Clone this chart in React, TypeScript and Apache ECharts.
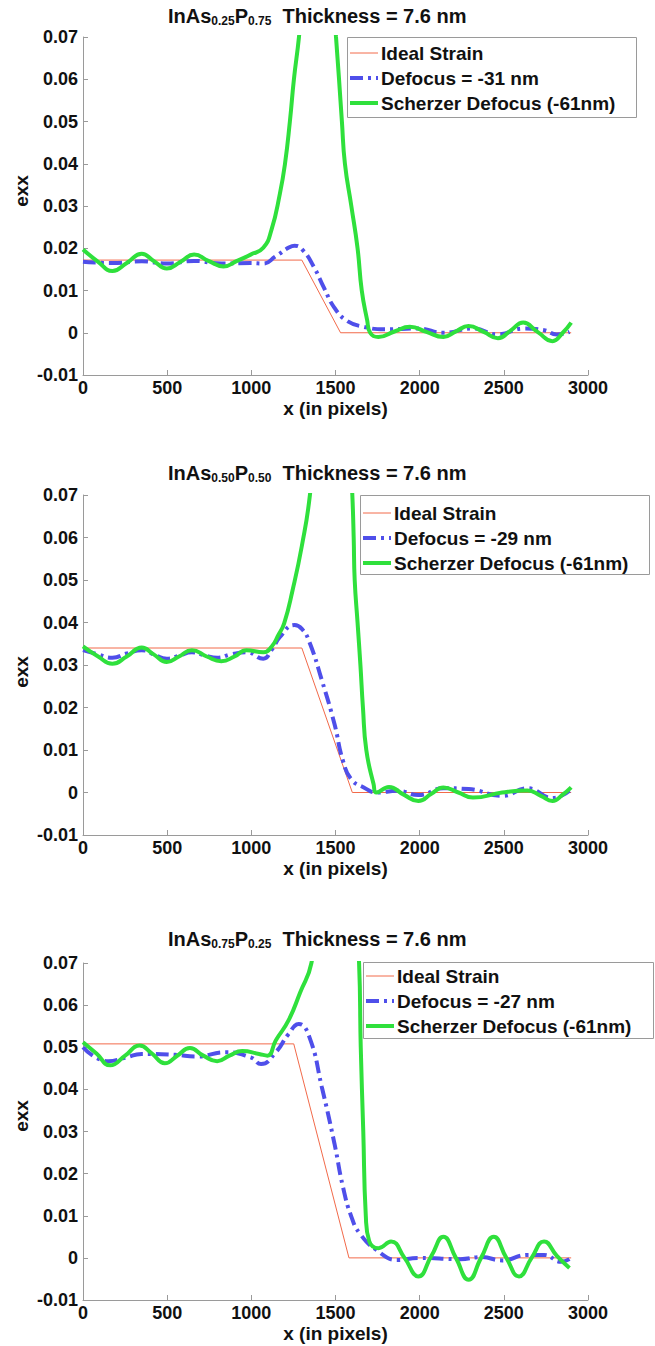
import React, { useEffect, useRef } from "react";
import * as echarts from "echarts";

const FONT = "'Liberation Sans', Arial, Helvetica, sans-serif";

// x ticks / y ticks
const xTicks = [0, 500, 1000, 1500, 2000, 2500, 3000];
const yTicks = [-0.01, 0, 0.01, 0.02, 0.03, 0.04, 0.05, 0.06, 0.07];

const titles = [
  ["0.25", "0.75"],
  ["0.50", "0.50"],
  ["0.75", "0.25"],
];
const defocusNames = ["Defocus = -31 nm", "Defocus = -29 nm", "Defocus = -27 nm"];
const idealName = "Ideal Strain";
const scherzerName = "Scherzer Defocus (-61nm)";

// Panel 1 (InAs0.25P0.75)
const ideal1 = [[0, 0.0172], [1300, 0.0172], [1530, 0], [2900, 0]];
const defocus1 = [
  [0, 0.0168], [174, 0.0165], [349, 0.0169], [498, 0.0164], [660, 0.017], [822, 0.0164],
  [996, 0.0165], [1071, 0.0164], [1145, 0.0181], [1220, 0.0201], [1257, 0.0206], [1307, 0.0195],
  [1370, 0.0157], [1432, 0.0106], [1494, 0.0059], [1569, 0.0028], [1668, 0.0014], [1793, 0.0008],
  [1992, 0.001], [2141, 0], [2316, 0.001], [2465, -0.0004], [2615, 0.001], [2739, 0.0006],
  [2814, -0.0004], [2890, 0.0002],
];
const scherzer1 = [
  [0, 0.0197], [90, 0.0168], [175, 0.0146], [260, 0.0165], [349, 0.0187], [420, 0.017],
  [498, 0.0152], [580, 0.0168], [660, 0.0185], [745, 0.017], [834, 0.0157], [915, 0.017],
  [996, 0.0185], [1071, 0.0201], [1120, 0.0244], [1170, 0.033], [1200, 0.04], [1229, 0.05],
  [1253, 0.06], [1283, 0.07], [1330, 0.09], [1400, 0.105], [1460, 0.095], [1503, 0.07],
  [1521, 0.06], [1538, 0.05], [1556, 0.04], [1594, 0.03], [1631, 0.02], [1656, 0.01],
  [1688, 0.003], [1706, 0], [1755, -0.001], [1850, 0.0003], [1942, 0.0014], [2040, 0.0002],
  [2141, -0.001], [2215, 0.0003], [2290, 0.0016], [2380, 0.0002], [2465, -0.0013], [2540, 0.0005],
  [2615, 0.0024], [2700, 0.0002], [2789, -0.002], [2850, 0], [2900, 0.0024],
];

// Panel 2 (InAs0.50P0.50)
const ideal2 = [[0, 0.034], [1300, 0.034], [1600, 0], [2900, 0]];
const defocus2 = [
  [0, 0.0335], [90, 0.0325], [174, 0.0317], [260, 0.0327], [349, 0.0335], [420, 0.0325],
  [498, 0.0315], [570, 0.0322], [647, 0.033], [720, 0.0323], [797, 0.0317], [880, 0.0325],
  [971, 0.033], [1071, 0.0315], [1120, 0.0335], [1170, 0.0366], [1257, 0.0394], [1300, 0.0385],
  [1345, 0.0354], [1419, 0.0264], [1494, 0.0161], [1544, 0.0075], [1594, 0.0031], [1668, 0.0012],
  [1743, 0], [1868, 0.0004], [1992, -0.0006], [2141, 0.001], [2291, 0.0008], [2490, -0.0008],
  [2640, 0.001], [2789, -0.0013], [2890, 0.0004],
];
const scherzer2 = [
  [0, 0.0344], [90, 0.032], [174, 0.0303], [260, 0.032], [349, 0.0341], [420, 0.0325],
  [498, 0.0307], [570, 0.032], [647, 0.0335], [735, 0.032], [822, 0.0309], [900, 0.032],
  [971, 0.0335], [1071, 0.033], [1120, 0.0343], [1160, 0.037], [1195, 0.0398], [1245, 0.0476],
  [1300, 0.058], [1348, 0.07], [1420, 0.1], [1500, 0.11], [1570, 0.095], [1600, 0.07],
  [1608, 0.06], [1614, 0.05], [1631, 0.04], [1648, 0.03], [1663, 0.02], [1683, 0.01],
  [1726, 0.002], [1743, 0], [1818, 0.0013], [1905, -0.0005], [1992, -0.002], [2070, -0.0003],
  [2141, 0.0012], [2230, 0], [2316, -0.0012], [2490, 0], [2640, 0.0005], [2720, -0.0008],
  [2789, -0.002], [2850, -0.0005], [2900, 0.0012],
];

// Panel 3 (InAs0.75P0.25)
const ideal3 = [[0, 0.0508], [1252, 0.0508], [1580, 0], [2900, 0]];
const defocus3 = [
  [0, 0.05], [149, 0.0467], [250, 0.0475], [349, 0.0484], [548, 0.0482], [672, 0.0478],
  [847, 0.0488], [996, 0.0476], [1058, 0.046], [1145, 0.0488], [1220, 0.0531], [1282, 0.0555],
  [1345, 0.0524], [1419, 0.0405], [1494, 0.0271], [1544, 0.0169], [1594, 0.0098], [1644, 0.0058],
  [1743, 0.0019], [1868, -0.0005], [1992, 0], [2241, -0.0003], [2366, 0.0002], [2490, -0.0006],
  [2640, 0.0007], [2739, 0.0007], [2839, -0.0009], [2890, -0.0003],
];
const scherzer3 = [
  [0, 0.0512], [80, 0.0485], [162, 0.0457], [250, 0.048], [336, 0.0504], [410, 0.0485],
  [486, 0.0462], [560, 0.048], [635, 0.0498], [715, 0.048], [797, 0.0467], [870, 0.048],
  [946, 0.0491], [1046, 0.0484], [1096, 0.048], [1145, 0.0516], [1220, 0.0563], [1290, 0.063],
  [1357, 0.07], [1450, 0.095], [1540, 0.105], [1610, 0.09], [1640, 0.07], [1650, 0.05],
  [1665, 0.03], [1680, 0.01], [1700, 0.004], [1755, 0.0023], [1830, 0.0039], [1910, 0],
  [1992, -0.0044], [2070, 0.0005], [2141, 0.005], [2215, 0], [2291, -0.0052], [2365, 0],
  [2440, 0.005], [2515, 0], [2590, -0.0044], [2665, 0], [2739, 0.0039], [2815, 0.0005],
  [2890, -0.0024],
];

const idealData = [ideal1, ideal2, ideal3];
const defocusData = [defocus1, defocus2, defocus3];
const scherzerData = [scherzer1, scherzer2, scherzer3];

// layout
const grids = [
  { left: 83, top: 37, width: 505, height: 338 },
  { left: 83, top: 495, width: 505, height: 340 },
  { left: 83, top: 963, width: 505, height: 337 },
];
const legendBoxes = [
  { x: 347, y: 37, w: 289, h: 80, first: 16 },
  { x: 360, y: 495, w: 289, h: 79, first: 18 },
  { x: 363, y: 962, w: 290, h: 76, first: 14 },
];
const titleTops = [5, 462, 928];
const ylabelY = [191, 672, 1116];

const RED = "#f26a4a";
const BLUE = "#4f4fea";
const GREEN = "#2fe03c";
const AXIS = "#9a9a9a";
const TEXT = "#111";
const BLUE_DASH = [13, 5, 3, 5];

export default function App() {
  const ref = useRef<HTMLDivElement>(null);
  useEffect(() => {
    if (!ref.current) return;
    const chart = echarts.init(ref.current, undefined, { renderer: "svg" });
    const fmt = (v: number) => (Math.abs(v) < 1e-9 ? "0" : v.toFixed(2));
    const legendGraphics: any[] = [];
    legendBoxes.forEach((b, i) => {
      legendGraphics.push({
        type: "rect",
        shape: { x: b.x + 0.5, y: b.y + 0.5, width: b.w, height: b.h },
        style: { fill: "#fff", stroke: AXIS, lineWidth: 1 },
        z: 100,
      });
      const names = [idealName, defocusNames[i], scherzerName];
      const styles = [
        { stroke: RED, lineWidth: 1 },
        { stroke: BLUE, lineWidth: 4, lineDash: BLUE_DASH },
        { stroke: GREEN, lineWidth: 4 },
      ];
      names.forEach((n, k) => {
        const y = b.y + b.first + k * 25;
        legendGraphics.push({
          type: "line",
          shape: { x1: b.x + 3, y1: y, x2: b.x + 31, y2: y },
          style: styles[k],
          z: 101,
        });
        legendGraphics.push({
          type: "text",
          x: b.x + 34,
          y,
          style: { text: n, font: `bold 19px ${FONT}`, fill: TEXT, align: "left", verticalAlign: "middle" },
          z: 101,
        });
      });
    });
    const option: any = {
      animation: false,
      backgroundColor: "#fff",
      textStyle: { fontFamily: FONT },
      title: titles.map((t, i) => ({
        text: `{a|InAs}{s|${t[0]}}{a|P}{s|${t[1]}}{a|  Thickness = 7.6 nm}`,
        left: 168,
        top: titleTops[i],
        padding: 0,
        textStyle: {
          rich: {
            a: { fontSize: 20, fontWeight: "bold", color: TEXT, fontFamily: FONT, lineHeight: 22 },
            s: { fontSize: 12, fontWeight: "bold", color: TEXT, fontFamily: FONT, padding: [9, 0, 0, 0] },
          },
        },
      })),
      grid: grids.map((g) => ({ ...g, containLabel: false })),
      xAxis: grids.map((g, i) => ({
        type: "value",
        gridIndex: i,
        min: xTicks[0],
        max: xTicks[xTicks.length - 1],
        interval: 500,
        name: "x (in pixels)",
        nameLocation: "middle",
        nameGap: 24,
        nameTextStyle: { fontSize: 19, fontWeight: "bold", color: TEXT, fontFamily: FONT },
        axisLine: { show: true, onZero: false, lineStyle: { color: AXIS, width: 1 } },
        axisTick: { show: true, inside: true, length: 5, lineStyle: { color: AXIS } },
        axisLabel: {
          fontSize: 18, fontWeight: "bold", color: TEXT, fontFamily: FONT, margin: 4,
          formatter: (v: number) => String(Math.round(v)),
        },
        splitLine: { show: false },
      })),
      yAxis: grids.map((g, i) => ({
        type: "value",
        gridIndex: i,
        min: yTicks[0],
        max: yTicks[yTicks.length - 1],
        interval: 0.01,
        axisLine: { show: true, onZero: false, lineStyle: { color: AXIS, width: 1 } },
        axisTick: { show: true, inside: true, length: 5, lineStyle: { color: AXIS } },
        axisLabel: { fontSize: 18, fontWeight: "bold", color: TEXT, fontFamily: FONT, margin: 5, formatter: fmt },
        splitLine: { show: false },
      })),
      graphic: [
        ...legendGraphics,
        ...ylabelY.map((y) => ({
          type: "text",
          x: 21,
          y,
          rotation: Math.PI / 2,
          style: { text: "exx", font: `bold 19px ${FONT}`, fill: TEXT, align: "center", verticalAlign: "middle" },
        })),
      ],
      series: [0, 1, 2].flatMap((i) => [
        {
          type: "line",
          name: idealName,
          xAxisIndex: i,
          yAxisIndex: i,
          data: idealData[i],
          symbol: "none",
          clip: true,
          lineStyle: { color: RED, width: 1 },
          itemStyle: { color: RED },
          z: 3,
        },
        {
          type: "line",
          name: defocusNames[i],
          xAxisIndex: i,
          yAxisIndex: i,
          data: defocusData[i],
          symbol: "none",
          smooth: 0.5,
          clip: true,
          lineStyle: { color: BLUE, width: 4, type: BLUE_DASH, cap: "butt" },
          itemStyle: { color: BLUE },
          z: 4,
        },
        {
          type: "line",
          name: scherzerName,
          xAxisIndex: i,
          yAxisIndex: i,
          data: scherzerData[i],
          symbol: "none",
          smooth: 0.5,
          clip: true,
          lineStyle: { color: GREEN, width: 4 },
          itemStyle: { color: GREEN },
          z: 5,
        },
      ]),
    };
    chart.setOption(option);
    return () => chart.dispose();
  }, []);
  return (
    <div
      ref={ref}
      style={{ width: 655, height: 1346, position: "absolute", left: 0, top: 0, background: "#fff" }}
    />
  );
}
